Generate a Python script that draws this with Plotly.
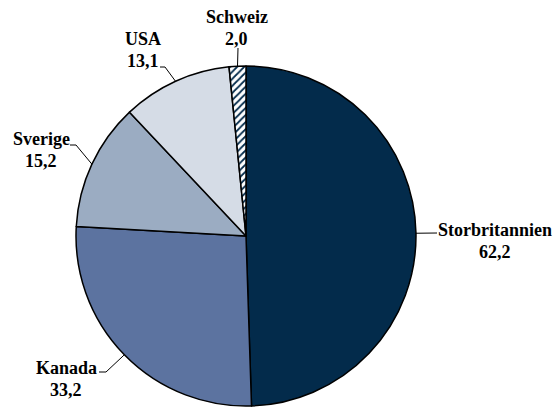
import math
import plotly.graph_objects as go

# ---- data ----
countries = ["Storbritannien", "Kanada", "Sverige", "USA", "Schweiz"]
values = [62.2, 33.2, 15.2, 13.1, 2.0]
value_labels = ["62,2", "33,2", "15,2", "13,1", "2,0"]

# ---- style / layout ----
colors = ["#032B4B", "#5C73A0", "#9BACC2", "#D5DCE6", "#FFFFFF"]
patterns = ["", "", "", "", "/"]
W, H = 554, 407
CX, CY, R = 246, 236, 170  # pie centre/radius in px

# label placement (px): centre x, first-line centre y, leader elbow, leader end at text
label_cfg = {
    "Storbritannien": dict(cx=495, cy=230, elbow=(437, 233), end=(437, 233)),
    "Kanada": dict(cx=66, cy=368, elbow=(106, 372), end=(99, 372)),
    "Sverige": dict(cx=41, cy=139, elbow=(76, 145), end=(70, 145)),
    "USA": dict(cx=143, cy=39, elbow=(165, 67), end=(160, 67)),
    "Schweiz": dict(cx=237, cy=17, elbow=(238, 48), end=(238, 48)),
}
LINE_GAP = 21.5
FONT = dict(family="Liberation Serif, Times New Roman, serif", size=18, color="#000000")


def px(x):
    return x / W


def py(y):
    return 1 - y / H


fig = go.Figure(
    go.Pie(
        labels=countries,
        values=values,
        sort=False,
        direction="clockwise",
        rotation=0,
        textinfo="none",
        hoverinfo="label+value",
        marker=dict(
            colors=colors,
            line=dict(color="#000000", width=1.5),
            pattern=dict(shape=patterns, fgcolor="#032B4B", bgcolor="#FFFFFF",
                         size=5, solidity=0.35),
        ),
        domain=dict(x=[(CX - R) / W, (CX + R) / W], y=[py(CY + R), py(CY - R)]),
        showlegend=False,
    )
)

total = sum(values)
cum = 0.0
shapes = []
annotations = []
for name, v, vl in zip(countries, values, value_labels):
    mid = (cum + v / 2) / total * 2 * math.pi
    cum += v
    ex = CX + R * math.sin(mid)
    ey = CY - R * math.cos(mid)
    cfg = label_cfg[name]
    bx, by = cfg["elbow"]
    tx, ty = cfg["end"]
    shapes.append(dict(type="path", xref="paper", yref="paper",
                       path=f"M {px(ex)},{py(ey)} L {px(bx)},{py(by)} L {px(tx)},{py(ty)}",
                       line=dict(color="#000000", width=1)))
    annotations.append(dict(x=px(cfg["cx"]), y=py(cfg["cy"]), xref="paper", yref="paper",
                            text=f"<b>{name}</b>", showarrow=False, font=FONT,
                            xanchor="center", yanchor="middle"))
    annotations.append(dict(x=px(cfg["cx"]), y=py(cfg["cy"] + LINE_GAP), xref="paper", yref="paper",
                            text=f"<b>{vl}</b>", showarrow=False, font=FONT,
                            xanchor="center", yanchor="middle"))

fig.update_layout(
    width=W, height=H,
    margin=dict(l=0, r=0, t=0, b=0),
    paper_bgcolor="#FFFFFF",
    plot_bgcolor="#FFFFFF",
    shapes=shapes,
    annotations=annotations,
)

fig.write_html("out.html", config={"displayModeBar": False},
               post_script="document.body.style.margin='0';document.body.style.overflow='hidden';")
